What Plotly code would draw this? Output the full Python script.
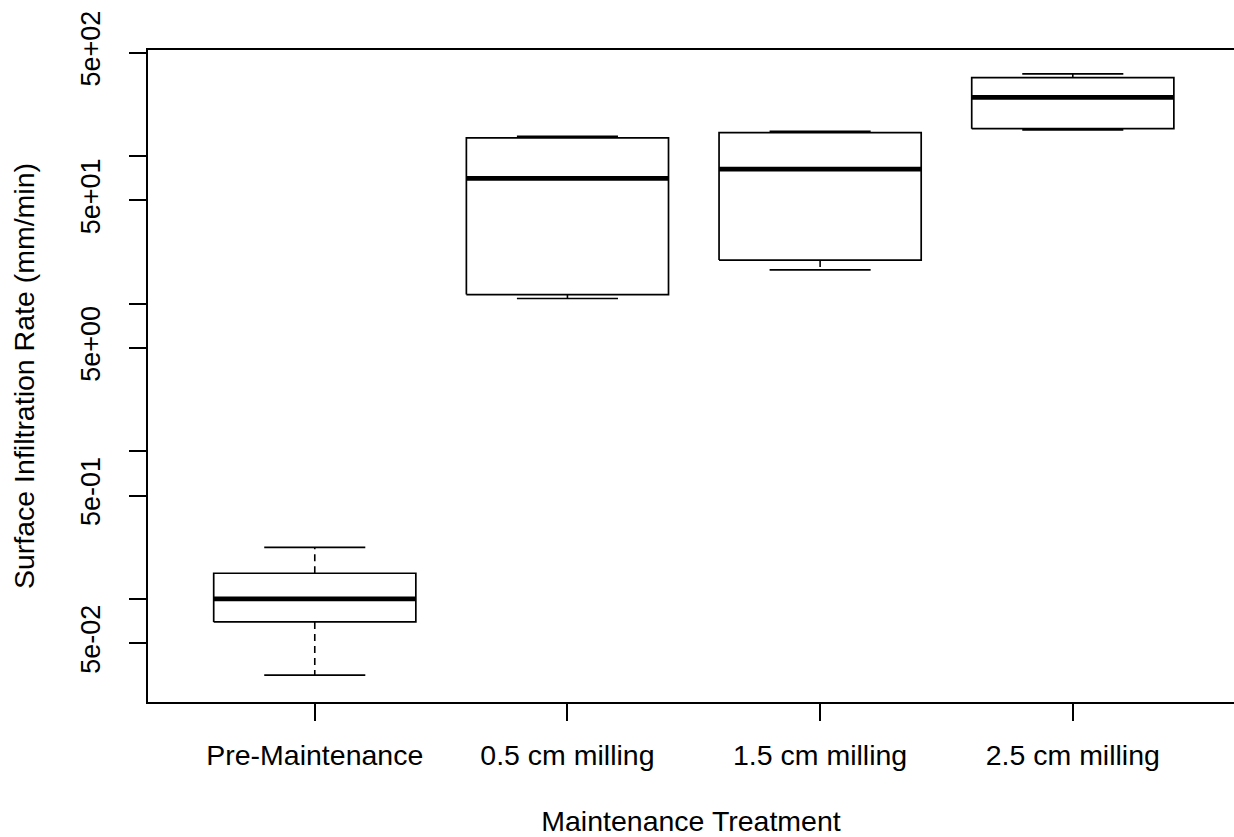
import plotly.graph_objects as go

categories = ["Pre-Maintenance", "0.5 cm milling", "1.5 cm milling", "2.5 cm milling"]
lower_whisker = [0.0304, 10.8, 16.9, 149.9]
q1 = [0.0697, 11.5, 19.7, 152.9]
median = [0.1, 70.3, 81.3, 248.7]
q3 = [0.149, 132.3, 143.6, 339.0]
upper_whisker = [0.223, 135.8, 146.7, 359.0]

y_tickvals = [0.05, 0.1, 0.5, 1, 5, 10, 50, 100, 500]
y_ticktext = ["5e-02", "", "5e-01", "", "5e+00", "", "5e+01", "", "5e+02"]

BOX_HALF = 0.4
CAP_HALF = 0.2
LINE = "black"

fig = go.Figure()

for i, cat in enumerate(categories):
    c = i + 1
    # dashed whiskers
    fig.add_trace(go.Scatter(
        x=[c, c, None, c, c],
        y=[q3[i], upper_whisker[i], None, q1[i], lower_whisker[i]],
        mode="lines", line=dict(color=LINE, width=1.6, dash="7px,5px"),
        hoverinfo="skip", showlegend=False))
    # caps
    fig.add_trace(go.Scatter(
        x=[c - CAP_HALF, c + CAP_HALF, None, c - CAP_HALF, c + CAP_HALF],
        y=[upper_whisker[i], upper_whisker[i], None, lower_whisker[i], lower_whisker[i]],
        mode="lines", line=dict(color=LINE, width=1.6),
        hoverinfo="skip", showlegend=False))
    # box
    fig.add_trace(go.Scatter(
        x=[c - BOX_HALF, c + BOX_HALF, c + BOX_HALF, c - BOX_HALF, c - BOX_HALF],
        y=[q1[i], q1[i], q3[i], q3[i], q1[i]],
        mode="lines", line=dict(color=LINE, width=1.7),
        fill="toself", fillcolor="white",
        name=cat, showlegend=False))
    # median
    fig.add_trace(go.Scatter(
        x=[c - BOX_HALF, c + BOX_HALF],
        y=[median[i], median[i]],
        mode="lines", line=dict(color=LINE, width=4.8),
        hoverinfo="skip", showlegend=False))

FAM = "Liberation Sans, Arial, sans-serif"
font = dict(family=FAM, size=28, color="black")

fig.update_layout(
    width=1234, height=837,
    margin=dict(l=148, r=0, t=50, b=135),
    paper_bgcolor="white", plot_bgcolor="white",
    font=font,
    xaxis=dict(
        range=[0.34, 4.638],
        tickvals=[1, 2, 3, 4], ticktext=categories,
        tickfont=dict(family=FAM, size=28.5, color="black"),
        showgrid=False, zeroline=False,
        showline=True, mirror=True, linecolor=LINE, linewidth=2,
        ticks="outside", ticklen=17, tickwidth=1.6, tickcolor=LINE,
        ticklabelstandoff=10,
        title=dict(text="Maintenance Treatment", standoff=44,
                   font=dict(family=FAM, size=28.5, color="black")),
    ),
    yaxis=dict(
        type="log",
        range=[-1.699, 2.717],
        tickvals=y_tickvals, ticktext=y_ticktext,
        tickangle=-90,
        tickfont=dict(family=FAM, size=27, color="black"),
        showgrid=False, zeroline=False,
        showline=True, mirror=False, linecolor=LINE, linewidth=2,
        ticks="outside", ticklen=17, tickwidth=1.6, tickcolor=LINE,
        ticklabelstandoff=18,
        title=dict(text="Surface Infiltration Rate (mm/min)", standoff=33,
                   font=dict(family=FAM, size=28.5, color="black")),
    ),
)

fig.write_html("out.html", config={"displayModeBar": False},
               post_script="document.body.style.margin='0';")
